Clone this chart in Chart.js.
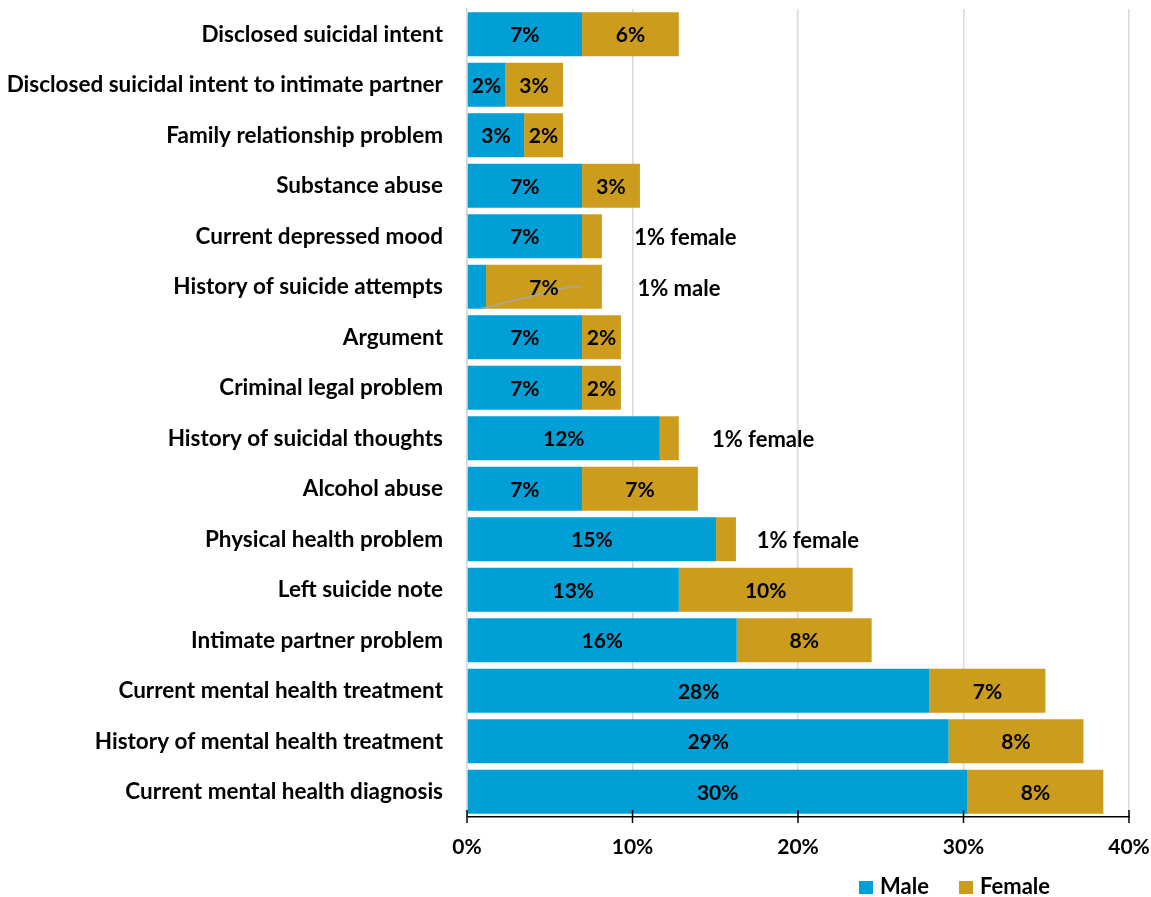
<!DOCTYPE html>
<html>
<head>
<meta charset="utf-8">
<script src="https://cdn.jsdelivr.net/npm/chart.js@4.4.1/dist/chart.umd.min.js"></script>
<style>
  html, body { margin: 0; padding: 0; background: #fff; }
</style>
</head>
<body>
<canvas id="chart" width="1151" height="897"></canvas>
<script>
// categories, top to bottom
const categories = [
  'Disclosed suicidal intent',
  'Disclosed suicidal intent to intimate partner',
  'Family relationship problem',
  'Substance abuse',
  'Current depressed mood',
  'History of suicide attempts',
  'Argument',
  'Criminal legal problem',
  'History of suicidal thoughts',
  'Alcohol abuse',
  'Physical health problem',
  'Left suicide note',
  'Intimate partner problem',
  'Current mental health treatment',
  'History of mental health treatment',
  'Current mental health diagnosis'
];

// percent values
const maleValues = [6.95, 2.3, 3.45, 6.95, 6.95, 1.15, 6.95, 6.95, 11.65, 6.95, 15.05, 12.8, 16.3, 27.95, 29.1, 30.25];
const femaleValues = [5.85, 3.5, 2.35, 3.5, 1.2, 7.0, 2.35, 2.35, 1.15, 7.0, 1.2, 10.5, 8.15, 7.0, 8.15, 8.2];

// text printed inside the bars (empty = none)
const maleLabels = ['7%', '2%', '3%', '7%', '7%', '', '7%', '7%', '12%', '7%', '15%', '13%', '16%', '28%', '29%', '30%'];
const femaleLabels = ['6%', '3%', '2%', '3%', '', '7%', '2%', '2%', '', '7%', '', '10%', '8%', '7%', '8%', '8%'];

// notes written right of small segments
const sideNotes = ['', '', '', '', '1% female', '1% male', '', '', '1% female', '', '1% female', '', '', '', '', ''];
const sideNoteAt = [null, null, null, null, 10.1, 10.3, null, null, 14.8, null, 17.5, null, null, null, null, null];

const xTicks = [0, 10, 20, 30, 40];

const FONT = 'Lato, "Open Sans", sans-serif';

// 字体与颜色
const maleColor = '#009fd6';
const femaleColor = '#cc9c1c';

const textPlugin = {
  id: 'barText',
  afterDatasetsDraw(chart) {
    const ctx = chart.ctx;
    const xs = chart.scales.x;
    const maleMeta = chart.getDatasetMeta(0);
    const femaleMeta = chart.getDatasetMeta(1);

    ctx.save();
    // leader line for the tiny male segment
    const lb = maleMeta.data[5];
    ctx.strokeStyle = '#a6a6a6';
    ctx.lineWidth = 1.5;
    ctx.beginPath();
    ctx.moveTo(xs.getPixelForValue(maleValues[5] * 0.7), lb.y + lb.height / 2);
    ctx.lineTo(xs.getPixelForValue(6.2), lb.y);
    ctx.lineTo(xs.getPixelForValue(6.95), lb.y);
    ctx.stroke();

    ctx.font = 'bold 21px ' + FONT;
    ctx.fillStyle = '#000';
    ctx.textAlign = 'center';
    ctx.textBaseline = 'middle';
    [[maleMeta, maleLabels], [femaleMeta, femaleLabels]].forEach(([meta, texts]) => {
      meta.data.forEach((bar, i) => {
        if (!texts[i]) return;
        ctx.fillText(texts[i], (bar.x + bar.base) / 2, bar.y + 1);
      });
    });

    ctx.font = 'bold 22px ' + FONT;
    ctx.textAlign = 'left';
    sideNotes.forEach((t, i) => {
      if (!t) return;
      ctx.fillText(t, xs.getPixelForValue(sideNoteAt[i]), femaleMeta.data[i].y + 2);
    });
    ctx.restore();
  },
  afterDraw(chart) {
    const ctx = chart.ctx;
    const xs = chart.scales.x;
    const bottom = chart.chartArea.bottom;
    ctx.save();
    // tick marks crossing the axis
    ctx.strokeStyle = '#000';
    ctx.lineWidth = 1.5;
    xTicks.forEach(v => {
      const px = xs.getPixelForValue(v);
      ctx.beginPath();
      ctx.moveTo(px, bottom - 7);
      ctx.lineTo(px, bottom + 6);
      ctx.stroke();
    });

    // legend, lower right
    ctx.font = 'bold 22px ' + FONT;
    ctx.textBaseline = 'middle';
    ctx.textAlign = 'left';
    let x = 859;
    const y = 887;
    chart.data.datasets.forEach(ds => {
      ctx.fillStyle = ds.backgroundColor;
      ctx.fillRect(x, y - 6, 14, 13);
      ctx.fillStyle = '#000';
      ctx.fillText(ds.label, x + 21, y);
      x += 100;
    });
    ctx.restore();
  }
};

new Chart(document.getElementById('chart'), {
  type: 'bar',
  data: {
    labels: categories,
    datasets: [
      { label: 'Male', data: maleValues, backgroundColor: maleColor },
      { label: 'Female', data: femaleValues, backgroundColor: femaleColor }
    ]
  },
  options: {
    indexAxis: 'y',
    responsive: false,
    animation: false,
    devicePixelRatio: 1,
    barPercentage: 0.87,
    categoryPercentage: 1,
    layout: { padding: { top: 9, right: 22, left: 0, bottom: 0 } },
    plugins: {
      legend: { display: false },
      tooltip: { enabled: false }
    },
    scales: {
      x: {
        stacked: true,
        min: 0,
        max: 40,
        afterBuildTicks: (scale) => { scale.ticks = xTicks.map(v => ({ value: v })); },
        afterFit: (scale) => {
          scale.height = 80;
          scale.paddingLeft = 0;
          scale.paddingRight = 0;
        },
        ticks: {
          callback: v => v + '%',
          color: '#000',
          padding: 18,
          maxRotation: 0,
          font: { family: FONT, size: 21, weight: 'bold' }
        },
        grid: { color: '#d9d9d9', lineWidth: 1.5, drawTicks: false },
        border: { color: '#000', width: 1.5 }
      },
      y: {
        stacked: true,
        afterFit: (scale) => {
          scale.width = 467;
          scale.paddingTop = 0;
          scale.paddingBottom = 0;
        },
        ticks: {
          color: '#000',
          padding: 24,
          autoSkip: false,
          font: { family: FONT, size: 22.5, weight: 'bold' }
        },
        grid: { display: false, drawTicks: false },
        border: { color: '#d9d9d9', width: 1.5 }
      }
    }
  },
  plugins: [textPlugin]
});
</script>
</body>
</html>
